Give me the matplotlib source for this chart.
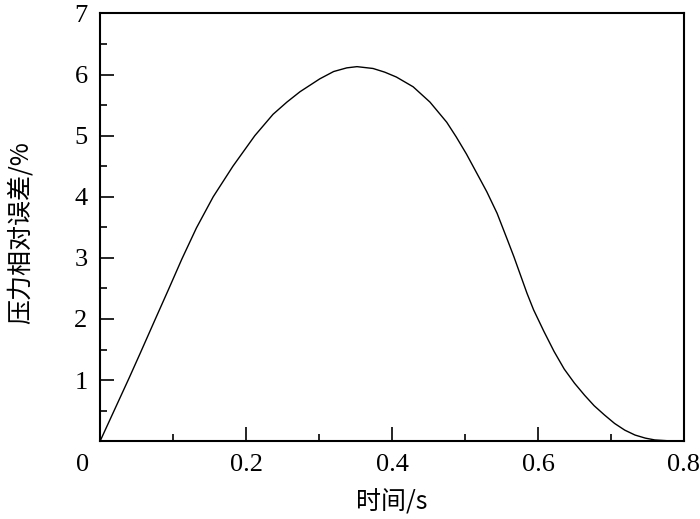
import matplotlib
matplotlib.use("Agg")
import matplotlib.pyplot as plt
import matplotlib.ticker as mticker
import matplotlib.transforms as mtransforms

# ── Data ─────────────────────────────────────────────────────────
time_s = [0.000, 0.020, 0.040, 0.055, 0.075, 0.094, 0.112, 0.132, 0.155,
          0.182, 0.212, 0.237, 0.256, 0.274, 0.301, 0.320, 0.338, 0.352,
          0.374, 0.390, 0.406, 0.429, 0.452, 0.475, 0.488, 0.502, 0.521,
          0.530, 0.544, 0.558, 0.567, 0.576, 0.585, 0.594, 0.608, 0.622,
          0.636, 0.650, 0.664, 0.677, 0.691, 0.705, 0.719, 0.733, 0.747,
          0.760, 0.780, 0.797]
err_pct = [0.00, 0.52, 1.04, 1.44, 1.98, 2.49, 2.98, 3.49, 4.00,
           4.50, 5.00, 5.35, 5.55, 5.72, 5.93, 6.05, 6.11, 6.13,
           6.10, 6.04, 5.96, 5.80, 5.55, 5.22, 4.98, 4.70, 4.28,
           4.08, 3.73, 3.30, 3.02, 2.72, 2.42, 2.15, 1.80, 1.47,
           1.18, 0.95, 0.75, 0.58, 0.43, 0.29, 0.18, 0.10, 0.05,
           0.02, 0.005, 0.00]

x_ticks = [0, 0.2, 0.4, 0.6, 0.8]
x_labels = ["0", "0.2", "0.4", "0.6", "0.8"]
y_ticks = [1, 2, 3, 4, 5, 6, 7]

SERIF = ["Liberation Serif", "DejaVu Serif"]
CJK = ["Noto Sans CJK SC", "Liberation Serif"]

fig = plt.figure(figsize=(7.0, 5.19), dpi=100)
ax = fig.add_axes([0.143, 0.150, 0.834, 0.824])

ax.plot(time_s, err_pct, color="black", lw=1.0)

ax.set_xlim(0, 0.8)
ax.set_ylim(0, 7)
ax.set_xticks(x_ticks)
ax.set_xticklabels(x_labels)
ax.set_yticks(y_ticks)
ax.xaxis.set_minor_locator(mticker.MultipleLocator(0.1))
ax.yaxis.set_minor_locator(mticker.MultipleLocator(0.5))

ax.tick_params(which="both", direction="in", top=False, right=False, width=1.2)
ax.tick_params(which="major", length=10)
ax.tick_params(which="minor", length=5)
ax.tick_params(axis="x", pad=9)
ax.tick_params(axis="y", pad=9)

for lab in ax.get_xticklabels() + ax.get_yticklabels():
    lab.set_family(SERIF)
    lab.set_fontsize(19)

# shift the origin "0" label left, as in the reference
first = ax.get_xticklabels()[0]
first.set_transform(first.get_transform() +
                    mtransforms.ScaledTranslation(-0.18, 0, fig.dpi_scale_trans))

for sp in ax.spines.values():
    sp.set_linewidth(1.5)

ax.set_xlabel("时间/s", family=CJK, fontsize=18)
ax.set_ylabel("压力相对误差/%", family=CJK, fontsize=18)
ax.xaxis.set_label_coords(0.5, -0.112)
ax.yaxis.set_label_coords(-0.113, 0.488)

fig.savefig("out.png", dpi=100)
